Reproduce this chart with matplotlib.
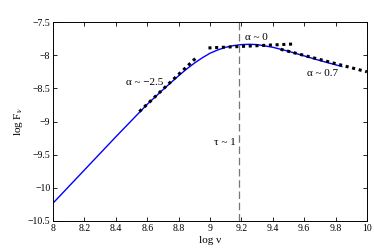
import matplotlib
matplotlib.use('Agg')
import matplotlib.pyplot as plt

plt.rcParams['font.family'] = ['Liberation Serif', 'DejaVu Serif']
plt.rcParams['mathtext.fontset'] = 'stix'

# spectrum
log_nu = [8.0, 8.2, 8.4, 8.6, 8.7, 8.8, 8.85, 8.9, 8.95, 9.0, 9.05, 9.1, 9.15, 9.2,
          9.25, 9.3, 9.4, 9.5, 9.6, 9.7, 9.84]
log_F = [-10.23, -9.73, -9.23, -8.74, -8.52, -8.31, -8.21, -8.12, -8.04, -7.97,
         -7.92, -7.88, -7.855, -7.84, -7.835, -7.84, -7.88, -7.94, -8.01, -8.08, -8.17]

# asymptotic slopes (dotted)
thick_nu = [8.55, 8.92]
thick_F = [-8.85, -8.02]
flat_nu = [8.99, 9.54]
flat_F = [-7.89, -7.83]
thin_nu = [9.45, 10.0]
thin_F = [-7.91, -8.25]

tau_nu = 9.185

fig = plt.figure(figsize=(3.74, 2.48), dpi=100)
ax = fig.add_axes([0.142, 0.109, 0.839, 0.802])

ax.plot(log_nu, log_F, color='#0000ff', lw=1.0)
ax.plot(thick_nu, thick_F, color='k', ls=(0, (1, 1.2)), lw=2.2)
ax.plot(flat_nu, flat_F, color='k', ls=(0, (1, 1.2)), lw=2.2)
ax.plot(thin_nu, thin_F, color='k', ls=(0, (1, 1.2)), lw=2.2)
ax.axvline(tau_nu, color='#777777', ls=(0, (6, 3)), lw=0.9)

fs = 8
ax.text(8.70, -8.41, 'α ~ \u22122.5', ha='right', va='center', fontsize=fs)
ax.text(9.22, -7.74, 'α ~ 0', ha='left', va='center', fontsize=fs)
ax.text(9.62, -8.27, 'α ~ 0.7', ha='left', va='center', fontsize=fs)
ax.text(9.165, -9.32, 'τ ~ 1', ha='right', va='center', fontsize=fs)

ax.set_xlim(8, 10)
ax.set_ylim(-10.5, -7.5)
ax.set_xticks([8, 8.2, 8.4, 8.6, 8.8, 9, 9.2, 9.4, 9.6, 9.8, 10])
ax.set_xticklabels(['8', '8.2', '8.4', '8.6', '8.8', '9', '9.2', '9.4', '9.6', '9.8', '10'])
ax.set_yticks([-10.5, -10, -9.5, -9, -8.5, -8, -7.5])
ax.set_yticklabels(['\u221210.5', '\u221210', '\u22129.5', '\u22129', '\u22128.5', '\u22128', '\u22127.5'])
ax.tick_params(direction='in', top=True, right=True, labelsize=7, length=3, width=0.6, pad=2)
for s in ax.spines.values():
    s.set_linewidth(0.7)

ax.set_xlabel('log ν', fontsize=8, labelpad=2)
ax.set_ylabel(r'log F$_\mathrm{\nu}$', fontsize=8, labelpad=2)

fig.savefig('out.png', dpi=100)
